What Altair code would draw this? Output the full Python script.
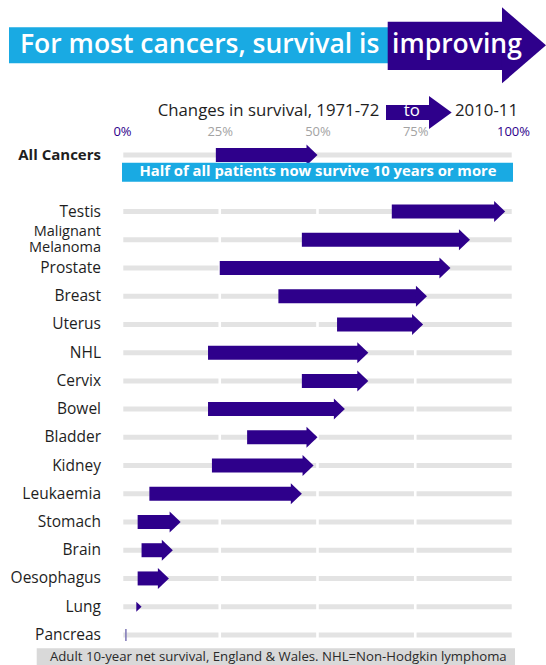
import altair as alt
import pandas as pd

# ---------------- data ----------------
cancers = ["All Cancers", "Testis", "Malignant\nMelanoma", "Prostate", "Breast", "Uterus",
           "NHL", "Cervix", "Bowel", "Bladder", "Kidney", "Leukaemia", "Stomach",
           "Brain", "Oesophagus", "Lung", "Pancreas"]
survival_1971_72 = [24, 69, 46, 25, 40, 55, 22, 46, 22, 32, 23, 7, 4, 5, 4, 3, 1]
survival_2010_11 = [50, 98, 89, 84, 78, 77, 63, 63, 57, 50, 49, 46, 15, 13, 12, 5, 1]
tick_values = [0, 25, 50, 75, 100]

title_left = "For most cancers, survival is"
title_right = "improving"
subtitle_left = "Changes in survival, 1971-72"
subtitle_mid = "to"
subtitle_right = "2010-11"
banner_text = "Half of all patients now survive 10 years or more"
footnote = "Adult 10-year net survival, England & Wales. NHL=Non-Hodgkin lymphoma"

# ---------------- styles ----------------
PURPLE = "#2E008B"
CYAN = "#19AAE3"
GREY_BAR = "#E3E3E3"
FONT = "Open Sans"
HEAD = "M0,0L-1.05,-1L-1.05,1Z"

# rows: All Cancers on row 0, a gap row for the banner, then the rest
rows = [0] + list(range(2, len(cancers) + 1))
df = pd.DataFrame({
    "name": cancers,
    "start": survival_1971_72,
    "end": survival_2010_11,
    "row": rows,
})
df["bold"] = df["name"] == "All Cancers"
df["multi"] = df["name"].str.contains("\n")
df["change"] = df["end"] - df["start"]
df["head_size"] = [441 if c >= 3 else 100 for c in df["change"]]

seg = []
for r in rows:
    if r == 0:
        seg.append({"row": r, "x0": tick_values[0], "x1": tick_values[-1]})
    else:
        for a, b in zip(tick_values[:-1], tick_values[1:]):
            seg.append({"row": r, "x0": a, "x1": b})
seg_df = pd.DataFrame(seg)

xscale = alt.Scale(domain=[0, 100], nice=False, zero=False)
yscale = alt.Scale(domain=[-0.5, 17.5], nice=False, zero=False, reverse=True)

top_axis = alt.Axis(
    orient="top", values=tick_values, labelExpr="datum.value + '%'",
    domain=False, ticks=False, grid=False, title=None, labelPadding=3,
    labelFont=FONT, labelFontSize=13, labelFlush=False,
    labelColor={"condition": {"test": "datum.value == 0 || datum.value == 100", "value": PURPLE},
                "value": "#A3A3A3"},
)

def X(field):
    return alt.X(field, type="quantitative", scale=xscale, axis=top_axis)

def Y(field):
    return alt.Y(field, type="quantitative", scale=yscale, axis=None)

one = pd.DataFrame({"d": [0]})

grey = alt.Chart(seg_df).mark_rule(strokeWidth=5, color=GREY_BAR, xOffset=1.3, x2Offset=-1.3).encode(
    x=X("x0"), x2="x1", y=Y("row"))

shafts = alt.Chart(df).transform_filter("datum.change >= 3").mark_rule(
    strokeWidth=14, color=PURPLE, x2Offset=-10).encode(x=X("start"), x2="end", y=Y("row"))

heads = alt.Chart(df).transform_filter("datum.change > 0").mark_point(
    shape=HEAD, filled=True, color=PURPLE, opacity=1, strokeWidth=0).encode(
    x=X("end"), y=Y("row"), size=alt.Size("head_size:Q", scale=None, legend=None))

flat = alt.Chart(df).transform_filter("datum.change == 0").mark_rule(
    strokeWidth=1.5, color="#7D76B6", yOffset=-6, y2Offset=6).encode(
    x=X("start"), y=Y("row"), y2="row")

labels = alt.Chart(df).transform_filter("!datum.bold && !datum.multi").mark_text(
    align="right", baseline="middle", font=FONT, fontSize=15.5, fontWeight=400,
    color="#1E1E1E").encode(
    x=alt.value(-21), y=Y("row"), text="name:N")

labels_multi = alt.Chart(df).transform_filter("datum.multi").mark_text(
    align="right", baseline="middle", font=FONT, fontSize=14.5, fontWeight=400,
    color="#1E1E1E", lineBreak="\n", lineHeight=15.5, dy=-7.75).encode(
    x=alt.value(-21), y=Y("row"), text="name:N")

labels_bold = alt.Chart(df).transform_filter("datum.bold").mark_text(
    align="right", baseline="middle", font=FONT, fontSize=15, fontWeight=700,
    color="#1E1E1E").encode(x=alt.value(-21), y=Y("row"), text="name:N")

banner_rect = alt.Chart(one).mark_rect(color=CYAN).encode(
    x=alt.value(0), x2=alt.value(391), y=alt.value(21.7), y2=alt.value(40.7))
banner_txt = alt.Chart(one).mark_text(
    font=FONT, fontSize=14.8, fontWeight=700, color="white", align="center", baseline="middle").encode(
    x=alt.value(196), y=alt.value(31.2), text=alt.value(banner_text))

# title banner
t_rect = alt.Chart(one).mark_rect(color=CYAN).encode(
    x=alt.value(-113), x2=alt.value(266), y=alt.value(-113.7), y2=alt.value(-77.7))
t_shaft = alt.Chart(one).mark_rect(color=PURPLE).encode(
    x=alt.value(265.7), x2=alt.value(381), y=alt.value(-119.3), y2=alt.value(-71))
t_head = alt.Chart(one).mark_point(
    shape="M0,0L-1.158,-1L-1.158,1Z", size=5776, filled=True, color=PURPLE, opacity=1, strokeWidth=0).encode(
    x=alt.value(424), y=alt.value(-95.7))
t_txt1 = alt.Chart(one).mark_text(
    font=FONT, fontSize=26.5, fontWeight=600, color="white", align="left", baseline="alphabetic").encode(
    x=alt.value(-102), y=alt.value(-87.7), text=alt.value(title_left))
t_txt2 = alt.Chart(one).mark_text(
    font=FONT, fontSize=26.5, fontWeight=600, color="white", align="left", baseline="alphabetic").encode(
    x=alt.value(270), y=alt.value(-87.7), text=alt.value(title_right))

# subtitle
s_txt1 = alt.Chart(one).mark_text(
    font=FONT, fontSize=16.8, fontWeight=400, color="#1E1E1E", align="right", baseline="alphabetic").encode(
    x=alt.value(257.3), y=alt.value(-25.3), text=alt.value(subtitle_left))
s_shaft = alt.Chart(one).mark_rect(color=PURPLE).encode(
    x=alt.value(264), x2=alt.value(310), y=alt.value(-36), y2=alt.value(-21))
s_head = alt.Chart(one).mark_point(
    shape="M0,0L-1.375,-1L-1.375,1Z", size=1089, filled=True, color=PURPLE, opacity=1, strokeWidth=0).encode(
    x=alt.value(329.7), y=alt.value(-28.5))
s_txt2 = alt.Chart(one).mark_text(
    font=FONT, fontSize=16.8, fontWeight=400, color="white", align="center", baseline="alphabetic").encode(
    x=alt.value(289.7), y=alt.value(-25.3), text=alt.value(subtitle_mid))
s_txt3 = alt.Chart(one).mark_text(
    font=FONT, fontSize=16.8, fontWeight=400, color="#1E1E1E", align="left", baseline="alphabetic").encode(
    x=alt.value(333), y=alt.value(-25.3), text=alt.value(subtitle_right))

# footnote
f_rect = alt.Chart(one).mark_rect(color="#D9D9D9").encode(
    x=alt.value(-85.3), x2=alt.value(393), y=alt.value(507.3), y2=alt.value(530))
f_txt = alt.Chart(one).mark_text(
    font=FONT, fontSize=13.2, fontWeight=400, color="#2A2A2A", align="center", baseline="middle").encode(
    x=alt.value(156.3), y=alt.value(515.5), text=alt.value(footnote))

chart = alt.layer(
    grey, shafts, heads, flat, labels, labels_multi, labels_bold, banner_rect, banner_txt,
    t_rect, t_shaft, t_head, t_txt1, t_txt2,
    s_shaft, s_head, s_txt1, s_txt2, s_txt3,
    f_rect, f_txt,
).properties(
    width=391, height=508,
    autosize=alt.AutoSizeParams(type="none"),
    padding={"left": 122, "top": 141, "right": 33, "bottom": 16},
    background="white",
).configure_view(stroke=None)

chart.save("out.html", embed_options={"renderer": "svg", "actions": False})
